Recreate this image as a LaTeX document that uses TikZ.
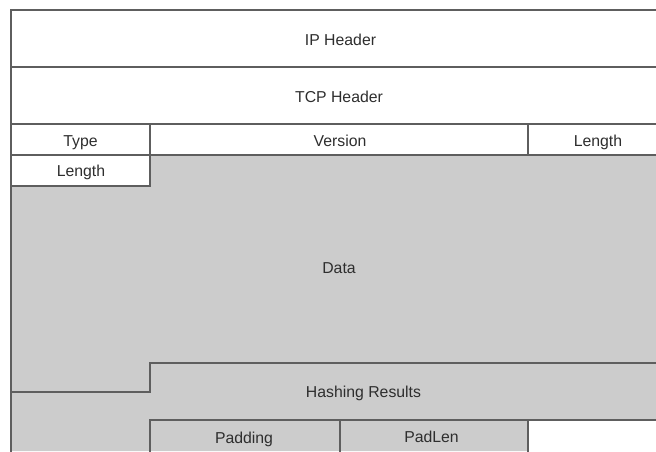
\documentclass[tikz,border=0pt]{standalone}
\usepackage{fontspec}
\setmainfont{Liberation Sans}
\definecolor{rule}{HTML}{5E5E5E}
\definecolor{bodygrey}{HTML}{CCCCCC}
\definecolor{ink}{HTML}{2E2E2E}
\begin{document}
\begin{tikzpicture}[x=1pt,y=-1pt,
  wire/.style={draw=rule,line width=1.6pt,line cap=rect},
  lbl/.style={text=ink,font=\fontsize{15.8}{19}\selectfont,anchor=base,inner sep=0pt}]
\useasboundingbox (0,0) rectangle (656,451);
\fill[white] (0,0) rectangle (656,451);
% grey body: data, hashing results, padding
\fill[bodygrey] (11,186) -- (150,186) -- (150,155) -- (656,155) -- (656,420)
  -- (528,420) -- (528,451) -- (11,451) -- cycle;
% outer left edge and full-width rules
\draw[wire] (11,10) -- (11,451);
\draw[wire] (11,10) -- (656,10);
\draw[wire] (11,67) -- (656,67);
\draw[wire] (11,124) -- (656,124);
\draw[wire] (11,155) -- (656,155);
% type / length fields
\draw[wire] (150,124) -- (150,186);
\draw[wire] (528,124) -- (528,155);
\draw[wire] (11,186) -- (150,186);
% hashing results step
\draw[wire] (11,392) -- (150,392) -- (150,363) -- (656,363);
\draw[wire] (150,420) -- (656,420);
% padding fields
\draw[wire] (150,420) -- (150,451);
\draw[wire] (340,420) -- (340,451);
\draw[wire] (528,420) -- (528,451);
% labels
\node[lbl] (iph)  at (340.5,45.7)  {IP Header};
\node[lbl] (tcph) at (339,102.7)   {TCP Header};
\node[lbl] (type) at (80.5,146)    {Type};
\node[lbl] (ver)  at (340,146)     {Version};
\node[lbl] (len)  at (598,146)     {Length};
\node[lbl] (len2) at (81,176.7)    {Length};
\node[lbl] (data) at (339,273.3)   {Data};
\node[lbl] (hash) at (363.5,397.3) {Hashing Results};
\node[lbl] (pad)  at (244,443.3)   {Padding};
\node[lbl] (padl) at (431.5,442.7) {PadLen};
\end{tikzpicture}
\end{document}
